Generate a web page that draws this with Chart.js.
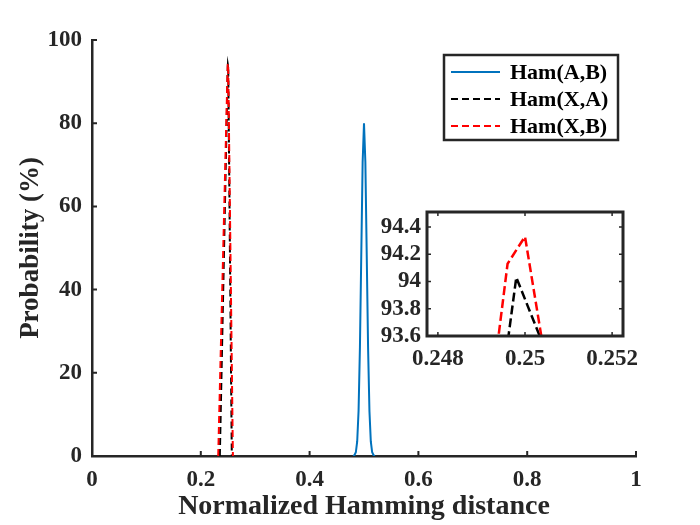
<!DOCTYPE html>
<html>
<head>
<meta charset="utf-8">
<script src="https://cdn.jsdelivr.net/npm/chart.js@4.4.1/dist/chart.umd.min.js"></script>
<style>
  body { margin: 0; background: #fff; }
  #wrap { position: relative; width: 700px; height: 525px; }
  #main { position: absolute; left: 0; top: 0; }
  #inset { position: absolute; left: 330px; top: 195px; }
</style>
</head>
<body>
<div id="wrap">
  <canvas id="main" width="700" height="525"></canvas>
  <canvas id="inset" width="310" height="185"></canvas>
</div>
<script>
// data
const abX = [0.480, 0.4825, 0.485, 0.4875, 0.490, 0.4925, 0.495, 0.4975, 0.500, 0.5025, 0.505, 0.5075, 0.510, 0.5125, 0.515, 0.5175, 0.520];
const abY = [0, 0.2, 0.9, 3.5, 10.8, 26.0, 48.5, 70.6, 80.0, 70.6, 48.5, 26.0, 10.8, 3.5, 0.9, 0.2, 0];

const xaX = [0.2350, 0.2496, 0.2498, 0.2504, 0.2570];
const xaY = [0, 93.55, 94.03, 93.55, 0];

const xbX = [0.2320, 0.2494, 0.2496, 0.2500, 0.2504, 0.2590];
const xbY = [0, 93.62, 94.13, 94.33, 93.55, 0];

const labels = ['Ham(A,B)', 'Ham(X,A)', 'Ham(X,B)'];
const mainXTicks = [0, 0.2, 0.4, 0.6, 0.8, 1];
const mainYTicks = [0, 20, 40, 60, 80, 100];
const insetXTicks = [0.248, 0.25, 0.252];
const insetYTicks = [93.6, 93.8, 94, 94.2, 94.4];

const DARK = '#262626';
const FONT = 'Liberation Serif';

function pts(xs, ys) {
    return xs.map(function (v, i) { return {x: v, y: ys[i]}; });
}

function makeDatasets(w, dash) {
    return [
        { label: labels[0], data: pts(abX, abY), borderColor: '#0072BD', borderWidth: w, order: 2 },
        { label: labels[1], data: pts(xaX, xaY), borderColor: '#000000', borderWidth: w, borderDash: dash, order: 1 },
        { label: labels[2], data: pts(xbX, xbY), borderColor: '#FF0000', borderWidth: w, borderDash: dash, order: 0 }
    ];
}

// inward tick marks (matlab style), optional full box
const tickMarks = {
    id: 'tickMarks',
    afterDraw(chart, args, opts) {
        const ctx = chart.ctx, a = chart.chartArea;
        const x = chart.scales.x, y = chart.scales.y;
        const len = opts.len;
        ctx.save();
        ctx.strokeStyle = DARK;
        ctx.lineWidth = opts.width;
        ctx.beginPath();
        x.ticks.forEach(function (t) {
            const px = x.getPixelForValue(t.value);
            ctx.moveTo(px, a.bottom); ctx.lineTo(px, a.bottom - len);
            if (opts.box) { ctx.moveTo(px, a.top); ctx.lineTo(px, a.top + len); }
        });
        y.ticks.forEach(function (t) {
            const py = y.getPixelForValue(t.value);
            ctx.moveTo(a.left, py); ctx.lineTo(a.left + len, py);
            if (opts.box) { ctx.moveTo(a.right, py); ctx.lineTo(a.right - len, py); }
        });
        ctx.stroke();
        if (opts.box) {
            ctx.lineWidth = opts.boxWidth;
            ctx.strokeStyle = DARK;
            ctx.strokeRect(a.left, a.top, a.right - a.left, a.bottom - a.top);
        }
        ctx.restore();
    }
};

// legend box in the upper right
const boxLegend = {
    id: 'boxLegend',
    afterDraw(chart) {
        const ctx = chart.ctx;
        const bx = 444, by = 55, bw = 174, bh = 85;
        ctx.save();
        ctx.fillStyle = '#fff';
        ctx.fillRect(bx, by, bw, bh);
        ctx.lineWidth = 2.5;
        ctx.strokeStyle = DARK;
        ctx.strokeRect(bx, by, bw, bh);
        const ds = chart.data.datasets;
        ctx.font = 'bold 22px "' + FONT + '"';
        ctx.textBaseline = 'middle';
        ctx.textAlign = 'left';
        for (let i = 0; i < ds.length; i++) {
            const ry = 72 + i * 27;
            ctx.strokeStyle = ds[i].borderColor;
            ctx.lineWidth = 2;
            ctx.setLineDash(ds[i].borderDash || []);
            ctx.beginPath();
            ctx.moveTo(451, ry); ctx.lineTo(500, ry);
            ctx.stroke();
            ctx.setLineDash([]);
            ctx.fillStyle = '#000';
            ctx.fillText(ds[i].label, 510, ry + 1);
        }
        ctx.restore();
    }
};

function fixTicks(list) {
    return function (scale) { scale.ticks = list.map(function (v) { return {value: v}; }); };
}

function fitX(h) {
    return function (s) { s.height = h; s.paddingLeft = 0; s.paddingRight = 0; };
}
function fitY(w) {
    return function (s) { s.width = w; s.paddingTop = 0; s.paddingBottom = 0; };
}

function tickOpts(pad) {
    return { color: DARK, padding: pad, autoSkip: false, maxRotation: 0,
        font: { family: FONT, size: 23, weight: 'bold' },
        callback: function (v) { return String(v); } };
}

const mainChart = new Chart(document.getElementById('main'), {
    type: 'line',
    data: { datasets: makeDatasets(2, [7, 4]) },
    options: {
        responsive: false,
        animation: false,
        events: [],
        layout: { padding: { top: 40, right: 64, left: 0, bottom: 0 } },
        elements: { point: { radius: 0 }, line: { tension: 0 } },
        plugins: {
            legend: { display: false },
            tooltip: { enabled: false },
            tickMarks: { len: 5, width: 2, box: false }
        },
        scales: {
            x: {
                type: 'linear', min: 0, max: 1,
                afterBuildTicks: fixTicks(mainXTicks),
                afterFit: fitX(69),
                grid: { display: false, drawTicks: false },
                border: { display: true, color: DARK, width: 2.5 },
                ticks: tickOpts(10),
                title: { display: true, text: 'Normalized Hamming distance', color: DARK,
                    font: { family: FONT, size: 28, weight: 'bold' }, padding: { top: 0, bottom: 1 } }
            },
            y: {
                type: 'linear', min: 0, max: 100,
                afterBuildTicks: fixTicks(mainYTicks),
                afterFit: fitY(92),
                grid: { display: false, drawTicks: false },
                border: { display: true, color: DARK, width: 2.5 },
                ticks: tickOpts(10),
                title: { display: true, text: 'Probability (%)', color: DARK,
                    font: { family: FONT, size: 27, weight: 'bold' }, padding: { top: 15, bottom: 0 } }
            }
        }
    },
    plugins: [tickMarks, boxLegend]
});

const insetChart = new Chart(document.getElementById('inset'), {
    type: 'line',
    data: { datasets: makeDatasets(2.5, [9, 4]) },
    options: {
        responsive: false,
        animation: false,
        events: [],
        layout: { padding: { top: 17, right: 17, left: 0, bottom: 0 } },
        elements: { point: { radius: 0 }, line: { tension: 0 } },
        plugins: {
            legend: { display: false },
            tooltip: { enabled: false },
            tickMarks: { len: 4, width: 1.5, box: true, boxWidth: 3 }
        },
        scales: {
            x: {
                type: 'linear', min: 0.24775, max: 0.25225,
                afterBuildTicks: fixTicks(insetXTicks),
                afterFit: fitX(44),
                grid: { display: false, drawTicks: false },
                border: { display: false },
                ticks: tickOpts(9)
            },
            y: {
                type: 'linear', min: 93.6, max: 94.51,
                afterBuildTicks: fixTicks(insetYTicks),
                afterFit: fitY(97),
                grid: { display: false, drawTicks: false },
                border: { display: false },
                ticks: tickOpts(6)
            }
        }
    },
    plugins: [tickMarks]
});
</script>
</body>
</html>
